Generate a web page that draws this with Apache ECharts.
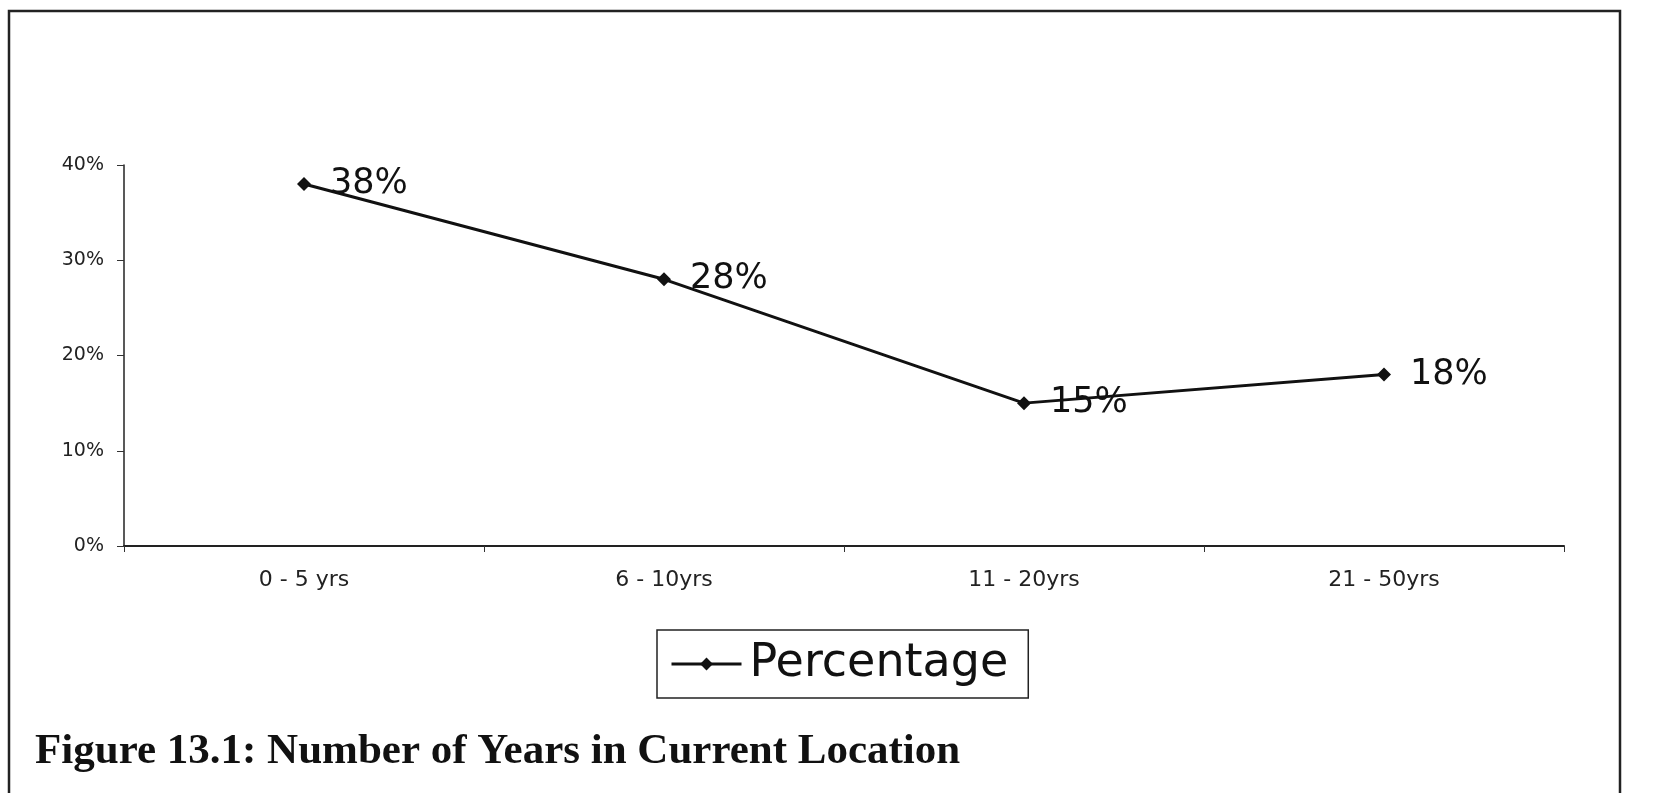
<!DOCTYPE html>
<html>
<head>
<meta charset="utf-8">
<script src="https://cdn.jsdelivr.net/npm/echarts@6/dist/echarts.min.js"></script>
<style>
html,body{margin:0;padding:0;background:#fff;}
#chart{width:1663px;height:793px;}
</style>
</head>
<body>
<div id="chart"></div>
<script>
const categories = ['0 - 5 yrs', '6 - 10yrs', '11 - 20yrs', '21 - 50yrs'];
const percentage = [38, 28, 15, 18];
const seriesName = 'Percentage';
const yTicks = {min: 0, max: 40, interval: 10};
const captionText = 'Figure 13.1: Number of Years in Current Location';

const chart = echarts.init(document.getElementById('chart'));
chart.setOption({
  backgroundColor: '#fff',
  animation: false,
  grid: {left: 124, right: 99, top: 165, bottom: 247},
  graphic: [
    {type: 'rect', shape: {x: 9, y: 11, width: 1611, height: 820},
     style: {fill: 'none', stroke: '#222', lineWidth: 2.5}},
    {type: 'text', left: 35, top: 730,
     style: {text: captionText, font: 'bold 43px "Liberation Serif"', fill: '#111'}}
  ],
  legend: {
    left: 657, top: 630,
    data: [seriesName],
    itemWidth: 70, itemHeight: 16, itemGap: 10,
    padding: [11, 20, 11, 13],
    borderColor: '#222', borderWidth: 1.5,
    lineStyle: {width: 3, color: '#111'},
    textStyle: {fontFamily: 'DejaVu Sans', fontSize: 46, color: '#111', padding: [0, 0, 0, 3]}
  },
  xAxis: {
    type: 'category', data: categories, boundaryGap: true,
    axisLine: {lineStyle: {color: '#222', width: 2}},
    axisTick: {show: true, length: 6, lineStyle: {color: '#333'}},
    axisLabel: {fontFamily: 'DejaVu Sans', fontSize: 22, color: '#222', margin: 23}
  },
  yAxis: {
    type: 'value', min: yTicks.min, max: yTicks.max, interval: yTicks.interval,
    axisLine: {show: true, lineStyle: {color: '#222', width: 1.5}},
    axisTick: {show: true, length: 7, lineStyle: {color: '#333'}},
    splitLine: {show: false},
    axisLabel: {fontFamily: 'DejaVu Sans', fontSize: 19, color: '#222', margin: 20, formatter: '{value}%'}
  },
  series: [{
    name: seriesName, type: 'line', data: percentage,
    symbol: 'diamond', symbolSize: 14,
    lineStyle: {color: '#111', width: 3},
    itemStyle: {color: '#111'},
    label: {show: true, position: 'right', distance: 19, formatter: '{c}%',
            fontFamily: 'DejaVu Sans', fontSize: 35, color: '#111'}
  }]
});
</script>
</body>
</html>
